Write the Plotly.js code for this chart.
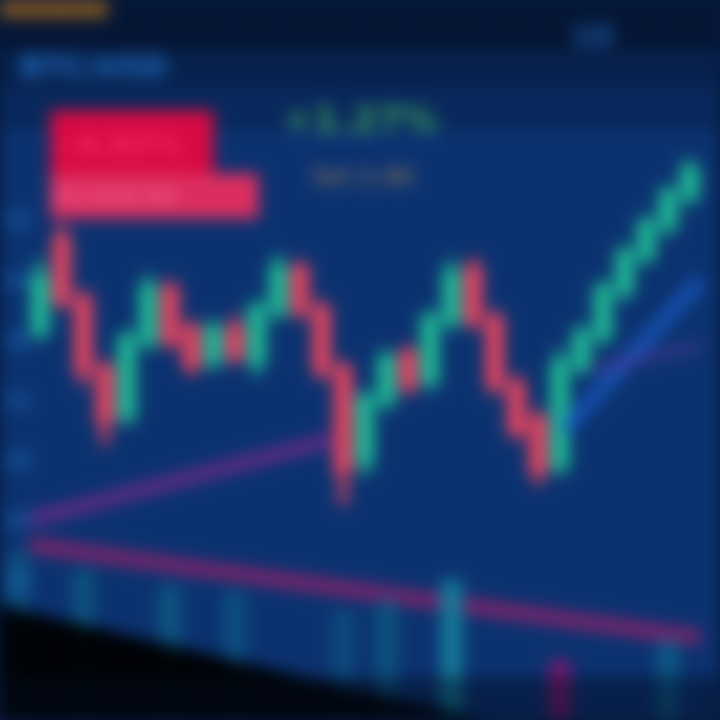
<!DOCTYPE html>
<html>
<head>
<meta charset="utf-8">
<script src="https://cdn.plot.ly/plotly-3.0.1.min.js"></script>
<style>
  html, body { margin: 0; padding: 0; background: #071a3c; overflow: hidden; }
  #chart { width: 720px; height: 720px; filter: blur(8px); }
</style>
</head>
<body>
<div id="chart"></div>
<script>
// Candle index (session number)
const sessions = [1,2,3,4,5,6,7,8,9,10,11,12,13,14,15,16,17,18,19,20,21,22,23,24,25,26,27,28,29,30,31];
const openPx  = [39,48,42,35,30.5,38,43,39,36,39,36,41,45,41,35,26,32,36.5,34,40,45,40,33.5,30,25.5,35.5,38.5,43,46.5,49.5,52.5];
const highPx  = [46,49.5,43,36,39,44.5,44,40,40,40.5,42,46.5,46,42,36,33,37,37.5,41,46,46.2,41,34.5,31,37,39.5,44,47.5,50.5,53.5,56];
const lowPx   = [38,41,33.5,27.5,29.5,37,37,34.5,35,35.5,34.5,40,40,34,21.5,24.5,31,32.5,33,39,39,32.5,28,23.5,24.5,34.5,37.5,42,45.5,48.5,51.5];
const closePx = [44,42,35,30,38,43,38,35.5,39,36.5,41,45,41,35,25,32,36,33.5,40,44.5,40,33.5,29,25,35.5,38.5,43,46.5,49.5,52.5,55];

// Volume bars (visible ones)
const volSessions = [0,3,7,10,15,17,20,25,30];
const volume      = [23.5,20.8,18.7,18,15.3,16.7,19.4,8.3,11.1];
const volColors   = ['#0d4f80','#0d527e','#0d5480','#0d4f80','#0d4a7e','#0d527e','#157a98','#7a1870','#0d5886'];

// Trend lines
const riseX = [0.5, 14.4];   const riseY = [20, 28];
const fallX = [0.5, 31.5];   const fallY = [17.5, 8.2];
const blueX = [25.2, 31.5];  const blueY = [29, 44];
const violX = [26.4, 31.5];  const violY = [35, 37.5];

// Axis tick labels
const priceTicks = [14, 20, 26, 32, 38, 44, 50];

const traces = [
  { type: 'bar', x: volSessions, y: volume, yaxis: 'y2',
    marker: { color: volColors }, width: 1.0, hoverinfo: 'skip', showlegend: false },
  { type: 'scatter', mode: 'lines', x: riseX, y: riseY,
    line: { color: '#80288e', width: 13 }, opacity: 0.8, showlegend: false },
  { type: 'scatter', mode: 'lines', x: fallX, y: fallY,
    line: { color: '#922268', width: 15 }, opacity: 0.85, showlegend: false },
  { type: 'scatter', mode: 'lines', x: blueX, y: blueY,
    line: { color: '#1a58c0', width: 14 }, opacity: 0.85, showlegend: false },
  { type: 'scatter', mode: 'lines', x: violX, y: violY,
    line: { color: '#5a3a9e', width: 10 }, opacity: 0.55, showlegend: false },
  { type: 'candlestick', x: sessions, open: openPx, high: highPx, low: lowPx, close: closePx,
    increasing: { line: { color: '#20bc96', width: 8 }, fillcolor: '#20bc96' },
    decreasing: { line: { color: '#e8445f', width: 8 }, fillcolor: '#e8445f' },
    whiskerwidth: 0, showlegend: false }
];

const layout = {
  width: 720, height: 720,
  margin: { l: 0, r: 0, t: 0, b: 0 },
  paper_bgcolor: '#071a3c',
  plot_bgcolor: '#0b3270',
  showlegend: false,
  xaxis: { range: [-0.85, 32.4], showticklabels: false, zeroline: false,
           showgrid: true, gridcolor: 'rgba(70,110,190,0.08)', dtick: 2,
           rangeslider: { visible: false }, fixedrange: true },
  yaxis: { range: [0, 72], zeroline: false, showgrid: true, gridcolor: 'rgba(70,110,190,0.08)',
           tickvals: priceTicks, ticklabelposition: 'inside', ticks: '',
           tickfont: { family: 'DejaVu Sans', size: 22, color: '#2478c8' }, fixedrange: true },
  yaxis2: { range: [0, 100], overlaying: 'y', visible: false, fixedrange: true },
  shapes: [
    { type: 'rect', xref: 'paper', yref: 'paper', x0: 0, x1: 1, y0: 0.82, y1: 1,
      fillcolor: '#061530', opacity: 0.3, line: { width: 0 }, layer: 'below' },
    { type: 'rect', xref: 'paper', yref: 'paper', x0: 0, x1: 1, y0: 0.88, y1: 1,
      fillcolor: '#061530', opacity: 0.35, line: { width: 0 }, layer: 'below' },
    { type: 'rect', xref: 'paper', yref: 'paper', x0: 0, x1: 1, y0: 0.93, y1: 1,
      fillcolor: '#030c1e', opacity: 0.5, line: { width: 0 }, layer: 'below' },
    { type: 'rect', xref: 'paper', yref: 'paper', x0: 0, x1: 0.15, y0: 0.975, y1: 1,
      fillcolor: '#8a5a20', opacity: 0.9, line: { width: 0 }, layer: 'above' },
    { type: 'path', xref: 'paper', yref: 'paper',
      path: 'M 0 0.16 L 0.68 0 L 0 0 Z',
      fillcolor: '#000000', opacity: 0.95, line: { width: 0 }, layer: 'above' },
    { type: 'rect', xref: 'paper', yref: 'paper', x0: 0, x1: 1, y0: 0, y1: 0.06,
      fillcolor: '#020a1c', opacity: 0.45, line: { width: 0 }, layer: 'above' }
  ],
  annotations: [
    { xref: 'paper', yref: 'paper', x: 0.025, y: 0.935, xanchor: 'left', yanchor: 'top',
      text: '<b>BTC/USD</b>', showarrow: false,
      font: { family: 'DejaVu Sans', size: 30, color: '#1f6cc0' } },
    { xref: 'paper', yref: 'paper', x: 0.79, y: 0.975, xanchor: 'left', yanchor: 'top',
      text: '<b>1D</b>', showarrow: false,
      font: { family: 'DejaVu Sans', size: 28, color: '#1a5aa4' } },
    { xref: 'paper', yref: 'paper', x: 0.069, y: 0.847, xanchor: 'left', yanchor: 'top',
      text: '<b>−4.82%</b>', showarrow: false, width: 160, height: 64, align: 'left',
      bgcolor: '#d80a42', font: { family: 'DejaVu Sans', size: 30, color: '#ee2a60' } },
    { xref: 'paper', yref: 'paper', x: 0.069, y: 0.76, xanchor: 'left', yanchor: 'top',
      text: '<b>52,418.60</b>', showarrow: false, width: 205, height: 42, align: 'left',
      bgcolor: '#dc2e5e', font: { family: 'DejaVu Sans', size: 22, color: '#ec5a86' } },
    { xref: 'paper', yref: 'paper', x: 0.39, y: 0.865, xanchor: 'left', yanchor: 'top',
      text: '<b>+1.27%</b>', showarrow: false,
      font: { family: 'DejaVu Sans', size: 36, color: '#3c9e62' } },
    { xref: 'paper', yref: 'paper', x: 0.43, y: 0.775, xanchor: 'left', yanchor: 'top',
      text: '<b>Vol 2.4K</b>', showarrow: false,
      font: { family: 'DejaVu Sans', size: 22, color: '#786a5e' } }
  ]
};

Plotly.newPlot('chart', traces, layout, { staticPlot: true, displayModeBar: false });
</script>
</body>
</html>
